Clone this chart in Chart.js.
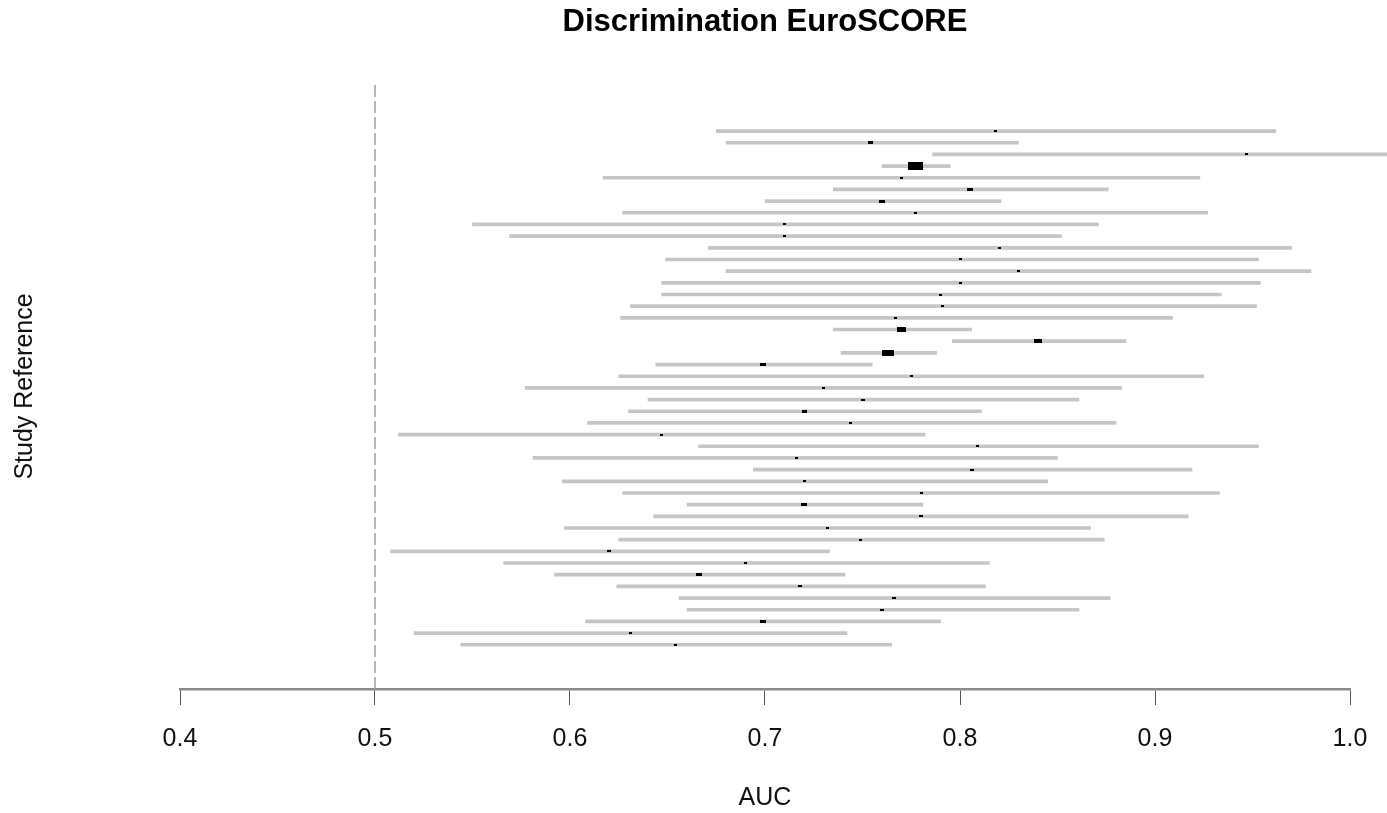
<!DOCTYPE html>
<html><head><meta charset="utf-8">
<script src="https://cdn.jsdelivr.net/npm/chart.js@4.4.0/dist/chart.umd.min.js"></script>
<style>html,body{margin:0;padding:0;background:#fff}canvas{display:block}</style>
</head><body>
<canvas id="c" width="1387" height="813"></canvas>
<script>
// ---- data (top row first) ----
const auc = [0.818, 0.754, 0.947, 0.777, 0.770, 0.805, 0.760, 0.777, 0.710, 0.710,
             0.820, 0.800, 0.830, 0.800, 0.790, 0.791, 0.767, 0.770, 0.840, 0.763,
             0.699, 0.775, 0.730, 0.750, 0.720, 0.744, 0.647, 0.809, 0.716, 0.806,
             0.720, 0.780, 0.720, 0.780, 0.732, 0.749, 0.620, 0.690, 0.666, 0.718,
             0.766, 0.760, 0.699, 0.631, 0.654];
const lower = [0.675, 0.680, 0.786, 0.760, 0.617, 0.735, 0.700, 0.627, 0.550, 0.569,
               0.671, 0.649, 0.680, 0.647, 0.647, 0.631, 0.626, 0.735, 0.796, 0.739,
               0.644, 0.625, 0.577, 0.640, 0.630, 0.609, 0.512, 0.666, 0.581, 0.694,
               0.596, 0.627, 0.660, 0.643, 0.597, 0.625, 0.508, 0.566, 0.592, 0.624,
               0.656, 0.660, 0.608, 0.520, 0.544];
const upper = [0.962, 0.830, 1.108, 0.795, 0.923, 0.876, 0.821, 0.927, 0.871, 0.852,
               0.970, 0.953, 0.980, 0.954, 0.934, 0.952, 0.909, 0.806, 0.885, 0.788,
               0.755, 0.925, 0.883, 0.861, 0.811, 0.880, 0.782, 0.953, 0.850, 0.919,
               0.845, 0.933, 0.781, 0.917, 0.867, 0.874, 0.733, 0.815, 0.741, 0.813,
               0.877, 0.861, 0.790, 0.742, 0.765];
const weights = [1, 2.5, 1, 20, 1, 3, 3, 1, 1, 1,
                 1, 1, 1, 1, 1, 1, 1, 7, 6, 13,
                 3, 1, 1, 1.5, 2.5, 1, 1, 1, 1, 1.5,
                 1, 1, 3.5, 1.5, 1, 1, 1.5, 1, 3.5, 1.5,
                 1.5, 1.5, 3, 1, 1];
const xTicks = [0.4, 0.5, 0.6, 0.7, 0.8, 0.9, 1.0];
const refValue = 0.5;
const chartTitle = 'Discrimination EuroSCORE';
const xTitle = 'AUC';
const yTitle = 'Study Reference';

// ---- build ----
const N = auc.length;
const yMax = 49.03, yMin = -2.79;
const FONT = 'Liberation Sans, Arial, Helvetica, sans-serif';
Chart.defaults.font.family = FONT;

function boxStyle(wt) {
  const s = 1.8 * Math.sqrt(wt);
  const h = Math.max(2, Math.round(s));
  const w = Math.max(3, Math.round(1.9 * s));
  const c = document.createElement('canvas');
  c.width = w; c.height = h;
  const g = c.getContext('2d');
  g.fillStyle = '#000';
  g.fillRect(0, 0, w, h);
  return c;
}
const boxes = weights.map(boxStyle);

new Chart(document.getElementById('c'), {
  type: 'scatter',
  data: {
    datasets: [
      {
        type: 'scatter',
        indexAxis: 'x',
        data: auc.map((v, i) => ({x: v, y: N - i})),
        pointStyle: ctx => boxes[ctx.dataIndex],
        pointRadius: 3,
        pointHoverRadius: 3,
        order: 0,
        clip: false,
        xAxisID: 'x', yAxisID: 'y'
      },
      {
        type: 'bar',
        indexAxis: 'y',
        data: lower.map((lo, i) => ({x: [lo, upper[i]], y: N - i})),
        backgroundColor: '#c6c6c6',
        borderWidth: 0,
        barThickness: 3,
        order: 1,
        clip: false,
        xAxisID: 'x', yAxisID: 'y'
      },
      {
        type: 'line',
        indexAxis: 'x',
        data: [{x: refValue, y: yMin}, {x: refValue, y: yMax}],
        borderColor: '#9e9e9e',
        borderWidth: 1.5,
        borderDash: [12, 4],
        pointRadius: 0,
        order: 2,
        xAxisID: 'x', yAxisID: 'y'
      }
    ]
  },
  options: {
    responsive: false,
    animation: false,
    layout: {padding: {left: 0, right: 37, top: 0, bottom: 0}},
    plugins: {legend: {display: false}, tooltip: {enabled: false}, title: {display: false}},
    scales: {
      x: {
        type: 'linear', position: 'bottom', min: 0.4, max: 1.0, offset: false,
        afterBuildTicks: s => { s.ticks = xTicks.map(v => ({value: v})); },
        ticks: {callback: v => Number(v).toFixed(1), color: '#111', font: {size: 25}, padding: 19, maxRotation: 0, autoSkip: false},
        grid: {display: true, offset: false, drawOnChartArea: false, drawTicks: true, tickLength: 16, color: '#555', tickColor: '#555', lineWidth: 1},
        border: {display: true, color: '#8a8a8a', width: 2.5},
        title: {display: true, text: xTitle, color: '#111', font: {size: 25}, padding: {top: 0, bottom: 0}},
        afterFit: s => { s.height = 124; }
      },
      xTop: {
        type: 'linear', position: 'top', min: 0, max: 1, offset: false,
        ticks: {display: false}, grid: {display: false}, border: {display: false},
        title: {display: true, text: chartTitle, color: '#000', font: {size: 31, weight: 'bold'}, padding: {top: 4, bottom: 0}},
        afterFit: s => { s.height = 84; }
      },
      y: {
        type: 'linear', min: yMin, max: yMax, offset: false,
        ticks: {display: false}, grid: {display: false, offset: false}, border: {display: false},
        title: {display: true, text: yTitle, color: '#111', font: {size: 25}, padding: {top: 10, bottom: 0}},
        afterFit: s => { s.width = 180; }
      }
    }
  }
});
</script>
</body></html>
